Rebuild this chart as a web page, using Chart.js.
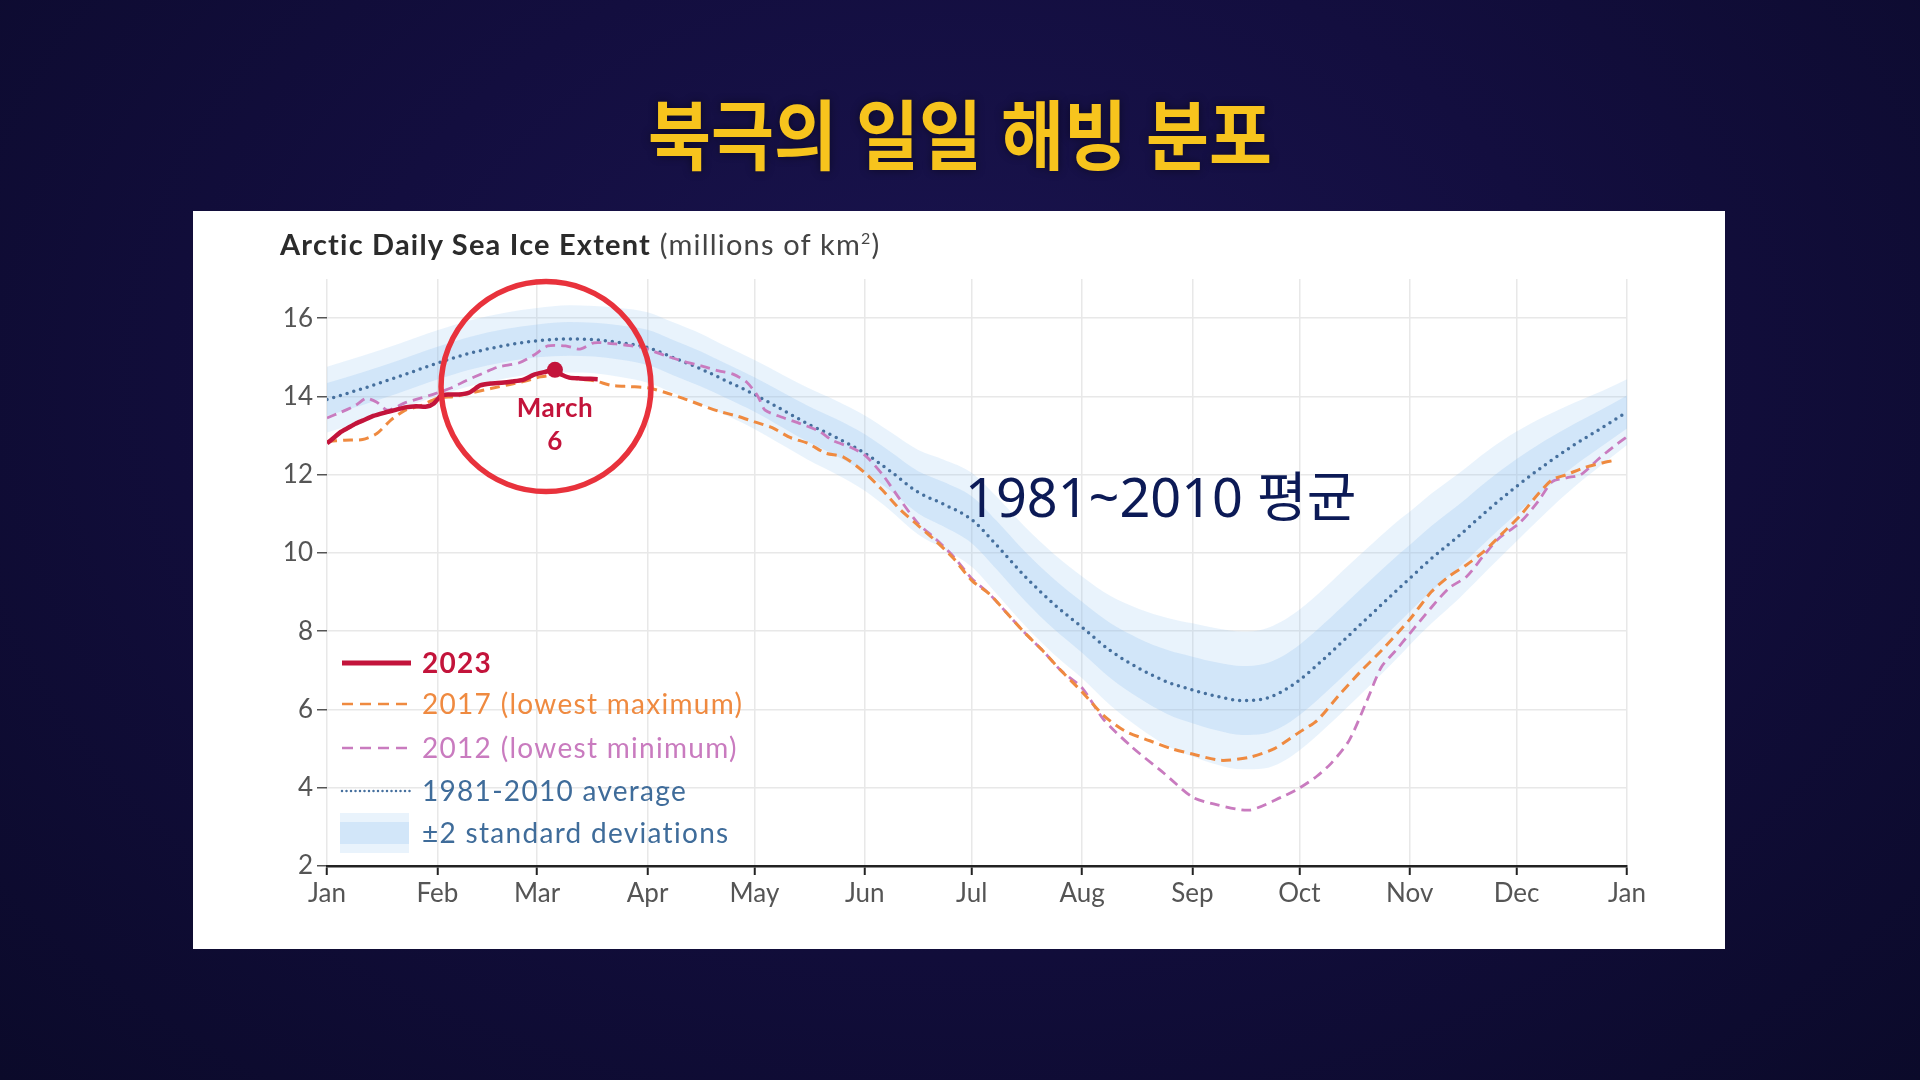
<!DOCTYPE html>
<html lang="ko">
<head>
<meta charset="utf-8">
<title>북극의 일일 해빙 분포</title>
<script src="https://cdn.jsdelivr.net/npm/chart.js@4.4.1/dist/chart.umd.min.js"></script>
<style>
  html, body {
    margin: 0;
    padding: 0;
  }
  body {
    width: 1920px;
    height: 1080px;
    overflow: hidden;
    position: relative;
    background: radial-gradient(ellipse at 50% 35%, #1a1450 0%, #130e3f 45%, #0b0a2a 100%);
  }
  .slide-title {
    position: absolute;
    left: 0;
    width: 1920px;
    top: 86px;
    margin: 0;
    text-align: center;
    font-family: "Noto Sans CJK KR", sans-serif;
    font-weight: 700;
    font-size: 76px;
    line-height: 90px;
    color: #f7c41d;
    transform: scaleX(0.9);
    text-shadow: 0 0 10px rgba(0, 0, 0, 0.45);
  }
  .panel {
    position: absolute;
    left: 193px;
    top: 211px;
    width: 1532px;
    height: 738px;
    background: #ffffff;
  }
  .chart-title {
    position: absolute;
    left: 87px;
    top: 15px;
    font-family: Lato, sans-serif;
    font-size: 29px;
    line-height: 36px;
    letter-spacing: 1.2px;
    color: #2b2b2b;
    white-space: nowrap;
  }
  .chart-title b {
    font-weight: 700;
  }
  .chart-title span {
    color: #444;
  }
  .chart-title sup {
    font-size: 16px;
    vertical-align: 11px;
    line-height: 0;
  }
  .avg-note {
    position: absolute;
    left: 772px;
    top: 253px;
    font-family: "Noto Sans", "Noto Sans CJK KR", sans-serif;
    font-size: 54px;
    line-height: 64px;
    color: #0c1a56;
    white-space: nowrap;
  }
  #iceChart {
    position: absolute;
    left: 0;
    top: 0;
  }
</style>
</head>
<body>
<h1 class="slide-title">북극의 일일 해빙 분포</h1>
<div class="panel">
  <canvas id="iceChart" width="1532" height="738"></canvas>
  <div class="chart-title"><b>Arctic Daily Sea Ice Extent</b> <span>(millions of km<sup>2</sup>)</span></div>
  <div class="avg-note">1981~2010 평균</div>
</div>

<script>
// x axis: day of year, ticks at the first day of each month
const monthStarts = [0, 31, 59, 90, 120, 151, 181, 212, 243, 273, 304, 334, 365];
const monthLabels = ["Jan", "Feb", "Mar", "Apr", "May", "Jun", "Jul", "Aug", "Sep", "Oct", "Nov", "Dec", "Jan"];
const yTicks = [2, 4, 6, 8, 10, 12, 14, 16];

// 1981-2010 average and one standard deviation (millions of km2)
const avgDays = [0, 10, 20, 31, 40, 50, 59, 68, 75, 82, 90, 97, 105, 112, 120, 128, 135, 143, 151, 158,
  166, 173, 181, 188, 196, 204, 212, 220, 228, 236, 243, 250, 257, 263, 268, 273, 280, 287, 294, 301,
  304, 310, 318, 326, 334, 342, 350, 358, 365];
const avgExtent = [13.92, 14.2, 14.5, 14.85, 15.1, 15.3, 15.42, 15.47, 15.45, 15.38, 15.25, 15.0, 14.7, 14.4, 14.05, 13.65, 13.3, 12.95, 12.55, 12.1,
  11.55, 11.25, 10.85, 10.2, 9.4, 8.7, 8.1, 7.5, 7.05, 6.7, 6.5, 6.33, 6.23, 6.27, 6.45, 6.75, 7.3, 7.9, 8.5, 9.1,
  9.35, 9.85, 10.45, 11.1, 11.7, 12.25, 12.75, 13.2, 13.6];
const avgSd = [0.42, 0.42, 0.42, 0.42, 0.42, 0.42, 0.42, 0.43, 0.43, 0.44, 0.45, 0.45, 0.45, 0.44, 0.44, 0.45, 0.46, 0.47, 0.48, 0.5,
  0.54, 0.57, 0.6, 0.62, 0.63, 0.64, 0.65, 0.7, 0.76, 0.82, 0.85, 0.87, 0.88, 0.89, 0.9, 0.9, 0.9, 0.9, 0.89, 0.87,
  0.85, 0.83, 0.8, 0.76, 0.7, 0.62, 0.54, 0.47, 0.42];

// 2023 so far
const days2023 = [0, 2, 4, 6, 8, 10, 13, 16, 19, 22, 25, 28, 30, 32, 34, 37, 40, 43, 46, 49, 52, 55, 58, 61, 64, 66, 68, 71, 74, 76];
const ext2023 = [12.8, 12.95, 13.1, 13.2, 13.3, 13.38, 13.5, 13.58, 13.65, 13.72, 13.75, 13.74, 13.82, 14.02, 14.05, 14.05, 14.1, 14.28, 14.33, 14.35,
  14.38, 14.42, 14.55, 14.62, 14.68, 14.55, 14.48, 14.46, 14.45, 14.44];

// 2017 (lowest maximum)
const days2017 = [0, 5, 10, 14, 18, 22, 26, 31, 36, 41, 46, 51, 56, 60, 65, 70, 75, 80, 85, 90,
  95, 100, 105, 110, 115, 120, 125, 130, 135, 140, 145, 151, 156, 161, 166, 171, 176, 181, 186, 191,
  196, 201, 206, 212, 218, 224, 231, 237, 243, 251, 259, 266, 273, 278, 284, 290, 296, 304, 310, 315,
  320, 325, 330, 335, 340, 344, 348, 353, 358, 361];
const ext2017 = [12.85, 12.88, 12.9, 13.05, 13.4, 13.65, 13.75, 13.95, 14.0, 14.1, 14.2, 14.3, 14.4, 14.5, 14.55, 14.45, 14.4, 14.28, 14.25, 14.22,
  14.1, 13.95, 13.78, 13.62, 13.5, 13.35, 13.2, 12.95, 12.8, 12.55, 12.45, 12.05, 11.6, 11.1, 10.7, 10.3, 9.85, 9.3, 8.95, 8.45,
  7.95, 7.5, 7.0, 6.45, 5.85, 5.45, 5.2, 5.0, 4.86, 4.7, 4.78, 5.0, 5.42, 5.72, 6.35, 6.95, 7.5, 8.3, 9.0, 9.4,
  9.7, 10.05, 10.5, 10.95, 11.5, 11.87, 12.0, 12.18, 12.3, 12.36];

// 2012 (lowest minimum)
const days2012 = [0, 4, 8, 11, 14, 17, 22, 26, 30, 35, 39, 44, 48, 54, 58, 62, 67, 71, 75, 81,
  85, 89, 95, 100, 105, 110, 114, 118, 121, 123, 128, 133, 138, 142, 147, 151, 156, 161, 166, 171,
  176, 181, 186, 191, 196, 201, 206, 212, 218, 226, 235, 243, 250, 259, 268, 273, 278, 282, 287, 292,
  296, 300, 304, 310, 315, 320, 325, 329, 335, 340, 344, 348, 352, 357, 361, 365];
const ext2012 = [13.45, 13.6, 13.77, 13.95, 13.85, 13.65, 13.84, 13.95, 14.06, 14.22, 14.4, 14.6, 14.75, 14.86, 15.05, 15.29, 15.29, 15.21, 15.37, 15.34,
  15.3, 15.24, 15.04, 14.9, 14.78, 14.65, 14.57, 14.35, 14.0, 13.65, 13.46, 13.3, 13.12, 12.87, 12.7, 12.5, 12.0, 11.35, 10.75, 10.35,
  9.9, 9.35, 8.95, 8.45, 7.95, 7.5, 7.0, 6.55, 5.75, 5.04, 4.37, 3.76, 3.56, 3.43, 3.76, 3.99, 4.3, 4.63, 5.21, 6.23,
  7.08, 7.5, 7.94, 8.6, 9.1, 9.4, 9.96, 10.37, 10.78, 11.31, 11.82, 11.92, 12.0, 12.4, 12.7, 12.97];

// 2023 maximum so far (March 6)
const maxDay2023 = 64;

// colours
const red2023 = "#c3143b";
const orange2017 = "#ef8a40";
const pink2012 = "#c97bbf";
const blueAvg = "#46709e";
const blueText = "#3f6c9a";
const outerBand = "rgba(140, 190, 240, 0.19)";
const innerBand = "rgba(140, 190, 240, 0.24)";

// helper to pair days with values
function toPoints(days, values) {
  return days.map((day, i) => ({ x: day, y: values[i] }));
}

const upper1 = toPoints(avgDays, avgExtent.map((v, i) => v + avgSd[i]));
const lower1 = toPoints(avgDays, avgExtent.map((v, i) => v - avgSd[i]));
const upper2 = toPoints(avgDays, avgExtent.map((v, i) => v + 2 * avgSd[i]));
const lower2 = toPoints(avgDays, avgExtent.map((v, i) => v - 2 * avgSd[i]));

const maxPoint = [{ x: maxDay2023, y: ext2023[days2023.indexOf(maxDay2023)] }];

// legend, circle and label drawn on top of the plot
const overlayPlugin = {
  id: "overlay",
  afterDatasetsDraw(chart) {
    const { ctx, chartArea, scales } = chart;
    const left = chartArea.left;
    const bottom = chartArea.bottom;

    ctx.save();

    // red circle round the maximum
    const cx = scales.x.getPixelForValue(61.5);
    const cy = scales.y.getPixelForValue(14.25);
    ctx.beginPath();
    ctx.arc(cx, cy, 105, 0, Math.PI * 2);
    ctx.lineWidth = 5.5;
    ctx.strokeStyle = "#e8323c";
    ctx.stroke();

    // "March 6" label
    ctx.fillStyle = red2023;
    ctx.font = "bold 26px Lato";
    ctx.textAlign = "center";
    ctx.textBaseline = "middle";
    ctx.letterSpacing = "0.5px";
    const lx = scales.x.getPixelForValue(maxDay2023);
    ctx.fillText("March", lx, cy + 22);
    ctx.fillText("6", lx, cy + 55);

    // legend
    ctx.textAlign = "left";
    ctx.letterSpacing = "1.3px";
    const lineX0 = left + 15;
    const lineX1 = left + 84;
    const textX = left + 95;

    function legendLine(y, color, width, dash, cap) {
      ctx.beginPath();
      ctx.setLineDash(dash);
      ctx.lineCap = cap;
      ctx.lineWidth = width;
      ctx.strokeStyle = color;
      ctx.moveTo(lineX0, y);
      ctx.lineTo(lineX1, y);
      ctx.stroke();
      ctx.setLineDash([]);
    }

    function legendText(y, text, color, bold) {
      ctx.font = (bold ? "bold " : "") + "28px Lato";
      ctx.fillStyle = color;
      ctx.fillText(text, textX, y + 1);
    }

    let y = bottom - 203;
    legendLine(y, red2023, 5, [], "butt");
    legendText(y, "2023", red2023, true);

    y = bottom - 162;
    legendLine(y, orange2017, 2.5, [11, 7], "butt");
    legendText(y, "2017 (lowest maximum)", orange2017, false);

    y = bottom - 118;
    legendLine(y, pink2012, 2.5, [11, 7], "butt");
    legendText(y, "2012 (lowest minimum)", pink2012, false);

    y = bottom - 75;
    legendLine(y, blueAvg, 2.5, [0, 4.5], "round");
    legendText(y, "1981-2010 average", blueText, false);

    y = bottom - 33;
    ctx.fillStyle = outerBand;
    ctx.fillRect(left + 13, y - 20, 69, 40);
    ctx.fillStyle = innerBand;
    ctx.fillRect(left + 13, y - 11, 69, 22);
    legendText(y, "\u00b12 standard deviations", blueText, false);

    ctx.restore();
  },
};

const ctx = document.getElementById("iceChart");

const iceChart = new Chart(ctx, {
  type: "line",
  data: {
    datasets: [
      {
        label: "March 6",
        data: maxPoint,
        showLine: false,
        pointRadius: 8,
        pointBackgroundColor: red2023,
        pointBorderWidth: 0,
      },
      {
        label: "2023",
        data: toPoints(days2023, ext2023),
        borderColor: red2023,
        borderWidth: 4.5,
        pointRadius: 0,
        tension: 0.2,
      },
      {
        label: "2017 (lowest maximum)",
        data: toPoints(days2017, ext2017),
        borderColor: orange2017,
        borderWidth: 3,
        borderDash: [10, 6],
        pointRadius: 0,
        tension: 0.25,
      },
      {
        label: "2012 (lowest minimum)",
        data: toPoints(days2012, ext2012),
        borderColor: pink2012,
        borderWidth: 2.8,
        borderDash: [10, 6],
        pointRadius: 0,
        tension: 0.25,
      },
      {
        label: "1981-2010 average",
        data: toPoints(avgDays, avgExtent),
        borderColor: blueAvg,
        borderWidth: 3.5,
        borderDash: [0, 7],
        borderCapStyle: "round",
        pointRadius: 0,
        cubicInterpolationMode: "monotone",
      },
      {
        label: "+1 sd",
        data: upper1,
        borderWidth: 0,
        pointRadius: 0,
        backgroundColor: innerBand,
        fill: 6,
        cubicInterpolationMode: "monotone",
      },
      {
        label: "-1 sd",
        data: lower1,
        borderWidth: 0,
        pointRadius: 0,
        cubicInterpolationMode: "monotone",
      },
      {
        label: "+2 sd",
        data: upper2,
        borderWidth: 0,
        pointRadius: 0,
        backgroundColor: outerBand,
        fill: 8,
        cubicInterpolationMode: "monotone",
      },
      {
        label: "-2 sd",
        data: lower2,
        borderWidth: 0,
        pointRadius: 0,
        cubicInterpolationMode: "monotone",
      },
    ],
  },
  options: {
    responsive: false,
    animation: false,
    devicePixelRatio: 1,
    layout: {
      padding: { top: 68, right: 98, left: 0, bottom: 0 },
    },
    plugins: {
      legend: { display: false },
      tooltip: { enabled: false },
    },
    scales: {
      x: {
        type: "linear",
        min: 0,
        max: 365,
        afterBuildTicks: (scale) => {
          scale.ticks = monthStarts.map((v) => ({ value: v }));
        },
        afterFit: (scale) => {
          scale.height = 83;
        },
        ticks: {
          autoSkip: false,
          maxRotation: 0,
          padding: 3,
          color: "#555555",
          font: { family: "Lato", size: 26 },
          callback: (value, index) => monthLabels[index],
        },
        grid: {
          color: "#e8e8e8",
          lineWidth: 1.5,
          tickColor: "#222222",
          tickLength: 9,
          tickWidth: 2,
        },
        border: {
          display: true,
          color: "#222222",
          width: 2.5,
        },
      },
      y: {
        min: 2,
        max: 17,
        afterBuildTicks: (scale) => {
          scale.ticks = yTicks.map((v) => ({ value: v }));
        },
        afterFit: (scale) => {
          scale.width = 134;
        },
        ticks: {
          padding: 4,
          color: "#555555",
          font: { family: "Lato", size: 26 },
        },
        grid: {
          color: "#e8e8e8",
          lineWidth: 1.5,
          tickColor: "#555555",
          tickLength: 10,
          tickWidth: 1.5,
        },
        border: {
          display: false,
        },
      },
    },
  },
  plugins: [overlayPlugin],
});
</script>
</body>
</html>
